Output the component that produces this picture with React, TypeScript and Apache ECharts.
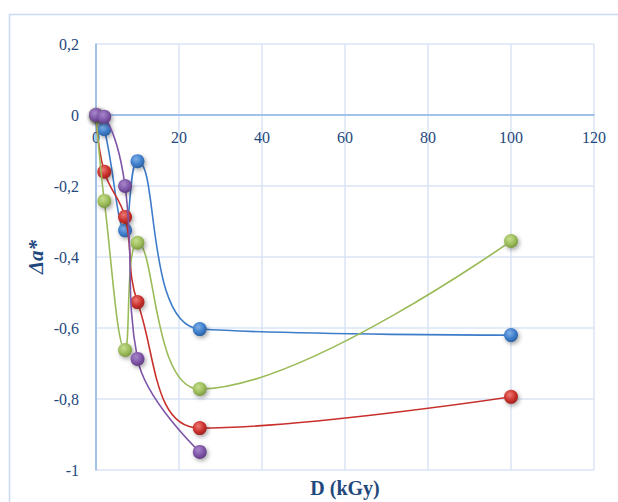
import React, { useEffect, useRef } from "react";
import * as echarts from "echarts";

const doses = [0, 2, 7, 10, 25, 100];
const blueValues = [0, -0.04, -0.325, -0.13, -0.603, -0.62];
const redValues = [0, -0.16, -0.287, -0.527, -0.882, -0.794];
const greenValues = [0, -0.242, -0.662, -0.36, -0.772, -0.355];
const purpleValues = [0, -0.005, -0.2, -0.687, -0.949];

const xTicks = { min: 0, max: 120, interval: 20 };
const yTicks = { min: -1, max: 0.2, interval: 0.2 };

const textColor = "#1f497d";
const serif = "'Liberation Serif', 'DejaVu Serif', serif";

function pairs(xs: number[], ys: number[]) {
  return ys.map((y, i) => [xs[i], y]);
}

function markerColor(base: string, light: string, dark: string) {
  return new echarts.graphic.RadialGradient(0.4, 0.35, 0.7, [
    { offset: 0, color: light },
    { offset: 0.6, color: base },
    { offset: 1, color: dark },
  ]);
}

function makeSeries(name: string, data: number[][], base: string, light: string, dark: string, z: number) {
  return {
    name,
    type: "line",
    data,
    smooth: 0.4,
    symbol: "circle",
    symbolSize: 14,
    z,
    lineStyle: { color: base, width: 1.6 },
    itemStyle: {
      color: markerColor(base, light, dark),
      borderWidth: 0,
      shadowColor: "rgba(0,0,0,0.35)",
      shadowBlur: 4,
      shadowOffsetX: 1.5,
      shadowOffsetY: 2,
    },
  };
}

export default function App() {
  const ref = useRef<HTMLDivElement>(null);
  useEffect(() => {
    if (!ref.current) return;
    const chart = echarts.init(ref.current, null, { renderer: "svg" });
    const fmt = (v: number) => String(Math.round(v * 10) / 10).replace(".", ",");
    const plotTop = 44;
    const plotBottom = 470;
    const zeroOffset = -((plotBottom - plotTop) * (0 - yTicks.min)) / (yTicks.max - yTicks.min);
    chart.setOption({
      animation: false,
      backgroundColor: "#ffffff",
      grid: { left: 96, right: 24, top: plotTop, bottom: 502 - plotBottom },
      graphic: [
        {
          type: "rect",
          shape: { x: 9.5, y: 14.5, width: 700, height: 600 },
          style: { fill: "none", stroke: "#c9daf0", lineWidth: 1.5 },
          z: -1,
        },
        {
          type: "text",
          x: 345,
          y: 488,
          style: {
            text: "D (kGy)",
            font: `bold 20px ${serif}`,
            fill: textColor,
            textAlign: "center",
            textVerticalAlign: "middle",
          },
        },
        {
          type: "text",
          x: 36,
          y: 257,
          rotation: Math.PI / 2,
          style: {
            text: "Δa*",
            font: `italic bold 21px ${serif}`,
            fill: textColor,
            textAlign: "center",
            textVerticalAlign: "middle",
          },
        },
      ],
      xAxis: {
        type: "value",
        min: xTicks.min,
        max: xTicks.max,
        interval: xTicks.interval,
        offset: zeroOffset,
        axisLine: { show: true, onZero: false, lineStyle: { color: "#8eb4e3", width: 1.5 } },
        axisTick: { show: false },
        axisLabel: { color: textColor, fontFamily: serif, fontSize: 16, margin: 14 },
        splitLine: { show: true, lineStyle: { color: "#d9e5f4", width: 1.5 } },
      },
      yAxis: {
        type: "value",
        min: yTicks.min,
        max: yTicks.max,
        interval: yTicks.interval,
        axisLine: { show: true, onZero: false, lineStyle: { color: "#8eb4e3", width: 1.5 } },
        axisTick: { show: false },
        axisLabel: { color: textColor, fontFamily: serif, fontSize: 16, margin: 17, formatter: fmt },
        splitLine: { show: true, lineStyle: { color: "#d9e5f4", width: 1.5 } },
      },
      series: [
        makeSeries("blue", pairs(doses, blueValues), "#3d7cc9", "#7fb0ea", "#2a5c99", 3),
        makeSeries("red", pairs(doses, redValues), "#c9302c", "#ee7a74", "#952320", 4),
        makeSeries("green", pairs(doses, greenValues), "#9bbb59", "#c6df8f", "#749040", 5),
        makeSeries("purple", pairs(doses, purpleValues), "#7d55a6", "#a887cc", "#5b3a7d", 6),
      ],
    });
    return () => chart.dispose();
  }, []);
  return (
    <div
      ref={ref}
      style={{ position: "absolute", left: 0, top: 0, width: 618, height: 502 }}
    />
  );
}
